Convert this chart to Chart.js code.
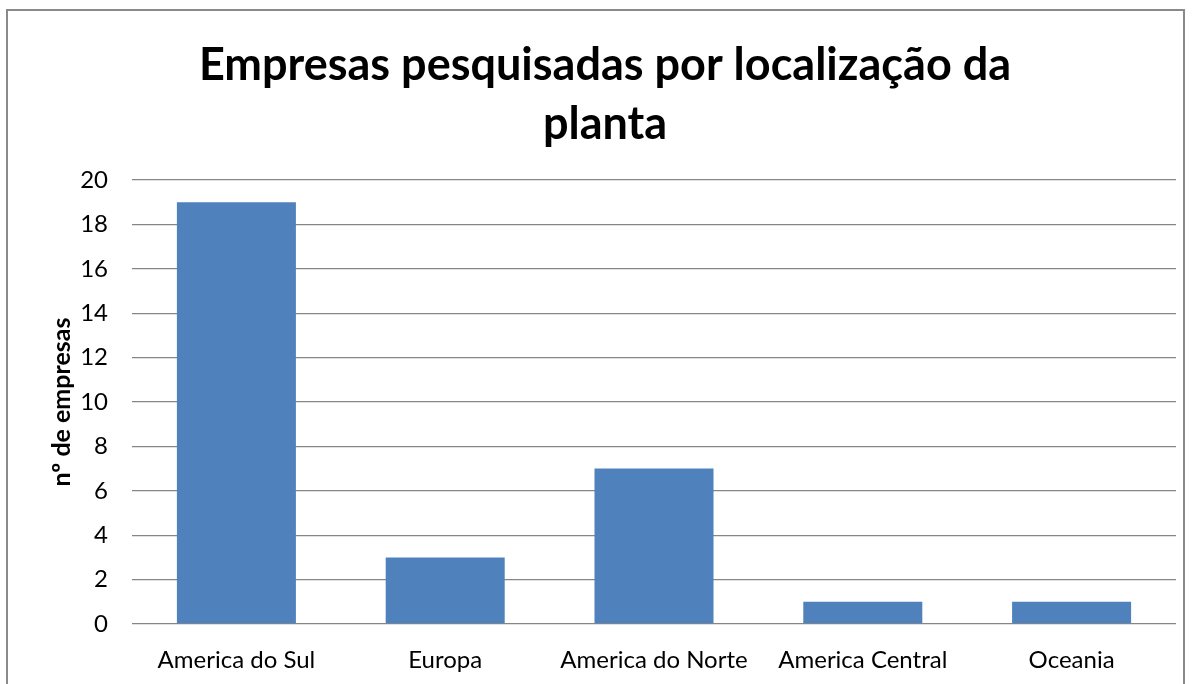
<!DOCTYPE html>
<html><head><meta charset="utf-8">
<script src="https://cdn.jsdelivr.net/npm/chart.js@4"></script>
<style>
html,body{margin:0;padding:0;background:#fff;width:1193px;height:684px;overflow:hidden;}
#frame{position:absolute;left:6px;top:9px;width:1179px;height:690px;border:2px solid #8a8a8a;box-sizing:border-box;}
#wrap{position:absolute;left:0;top:0;width:1193px;height:684px;}
</style></head>
<body>
<div id="frame"></div>
<div id="wrap"><canvas id="c" width="1193" height="684"></canvas></div>
<script>
const categories = ["America do Sul", "Europa", "America do Norte", "America Central", "Oceania"];
const companies = [19, 3, 7, 1, 1];
const yTicks = [0, 2, 4, 6, 8, 10, 12, 14, 16, 18, 20];
const titleLines = ["Empresas pesquisadas por localização da", "planta"];
const yTitle = "nº de empresas";

const FONT = "Lato, 'Open Sans', sans-serif";
new Chart(document.getElementById('c'), {
  type: 'bar',
  data: {
    labels: categories,
    datasets: [{
      data: companies,
      backgroundColor: '#4F81BD',
      borderWidth: 0,
      categoryPercentage: 1,
      barPercentage: 0.57
    }]
  },
  options: {
    responsive: false,
    animation: false,
    layout: { padding: { left: 34, right: 17, top: 0, bottom: 0 } },
    plugins: {
      legend: { display: false },
      tooltip: { enabled: false },
      title: {
        display: true,
        text: titleLines,
        color: '#000',
        font: { family: FONT, size: 45, weight: 'bold', lineHeight: 1.333 },
        padding: { top: 35, bottom: 25 }
      }
    },
    scales: {
      x: {
        grid: { display: false, drawTicks: false },
        border: { display: false },
        ticks: { color: '#000', font: { family: FONT, size: 24 }, padding: 22, maxRotation: 0, autoSkip: false },
        afterFit: (s) => { s.height = 60; }
      },
      y: {
        min: 0, max: 20,
        afterBuildTicks: (s) => { s.ticks = yTicks.map(v => ({ value: v })); },
        grid: { color: '#868686', lineWidth: 1.3, drawTicks: false },
        border: { display: false },
        ticks: { color: '#000', font: { family: FONT, size: 24 }, padding: 24 },
        title: { display: true, text: yTitle, color: '#000', font: { family: FONT, size: 25, weight: 'bold', lineHeight: 1.2 }, padding: { top: 13, bottom: 0 } },
        afterFit: (s) => { s.width = 98; }
      }
    }
  }
});
</script>
</body></html>
